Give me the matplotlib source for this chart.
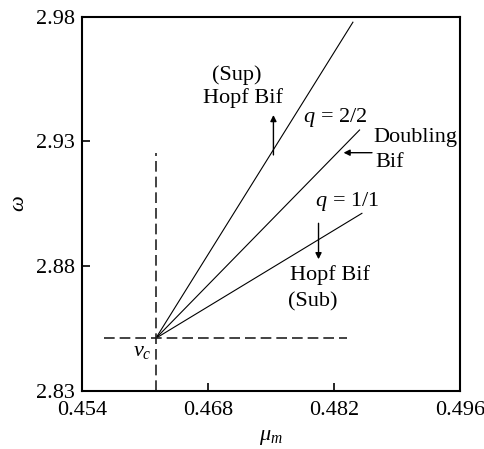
import matplotlib
matplotlib.use("Agg")
import matplotlib.pyplot as plt

plt.rcParams['font.family'] = ['Liberation Serif', 'DejaVu Serif']
plt.rcParams['mathtext.fontset'] = 'custom'
plt.rcParams['mathtext.rm'] = 'Liberation Serif'
plt.rcParams['mathtext.it'] = 'Liberation Serif:italic'

# critical point v_c
vc_mu = 0.4622
vc_omega = 2.8511

# end points of the three bifurcation branches leaving v_c
sup_hopf_mu = [vc_mu, 0.4841]
sup_hopf_omega = [vc_omega, 2.9778]
doubling_mu = [vc_mu, 0.48484]
doubling_omega = [vc_omega, 2.9346]
sub_hopf_mu = [vc_mu, 0.4851]
sub_hopf_omega = [vc_omega, 2.9012]

# dashed guide lines through v_c
guide_v_omega = [2.83, 2.9254]
guide_h_mu = [0.45645, 0.48347]

xticks = [0.454, 0.468, 0.482, 0.496]
yticks = [2.83, 2.88, 2.93, 2.98]

fig = plt.figure(figsize=(4.85, 4.49), dpi=100)
ax = fig.add_axes([0.169, 0.1292, 0.7795, 0.8336])

ax.plot(sup_hopf_mu, sup_hopf_omega, color='k', lw=0.8)
ax.plot(doubling_mu, doubling_omega, color='k', lw=0.8)
ax.plot(sub_hopf_mu, sub_hopf_omega, color='k', lw=0.8)

ax.plot([vc_mu, vc_mu], guide_v_omega, color='#222222', lw=1.2, dashes=(6.4, 3))
ax.plot(guide_h_mu, [vc_omega, vc_omega], color='#222222', lw=1.2, dashes=(6.4, 3))

arrow = dict(arrowstyle='-|>', color='k', lw=1.0, mutation_scale=9,
             shrinkA=0, shrinkB=0)
ax.annotate('', xy=(0.47527, 2.9406), xytext=(0.47527, 2.9246), arrowprops=arrow)
ax.annotate('', xy=(0.48306, 2.9255), xytext=(0.48622, 2.9255), arrowprops=arrow)
ax.annotate('', xy=(0.48028, 2.8828), xytext=(0.48028, 2.8972), arrowprops=arrow)

fs = 16
ax.text(0.46842, 2.9567, '(Sup)', fontsize=fs, va='center')
ax.text(0.46742, 2.9474, 'Hopf Bif', fontsize=fs, va='center')
ax.text(0.47861, 2.9395, r'$q\,{=}\,2/2$', fontsize=fs, va='center')
ax.text(0.48639, 2.9314, 'Doubling', fontsize=fs, va='center')
ax.text(0.48658, 2.9214, 'Bif', fontsize=fs, va='center')
ax.text(0.47991, 2.9059, r'$q\,{=}\,1/1$', fontsize=fs, va='center')
ax.text(0.47713, 2.8765, 'Hopf Bif', fontsize=fs, va='center')
ax.text(0.47687, 2.8658, '(Sub)', fontsize=fs, va='center')
ax.text(0.46067, 2.8460, r'$v_c$', fontsize=fs, va='center', ha='center')

ax.set_xlim(xticks[0], xticks[-1])
ax.set_ylim(yticks[0], yticks[-1])
ax.set_xticks(xticks)
ax.set_yticks(yticks)
ax.set_xticklabels(['%.3f' % v for v in xticks])
ax.set_yticklabels(['%.2f' % v for v in yticks])
ax.tick_params(direction='in', length=6, width=1.2, labelsize=fs, pad=5)
ax.tick_params(axis='x', pad=7)
for s in ax.spines.values():
    s.set_linewidth(1.5)

ax.set_xlabel(r'$\mu_m$', fontsize=fs, labelpad=6)
ax.set_ylabel(r'$\omega$', fontsize=fs, labelpad=5)

fig.savefig('out.png', dpi=100)
